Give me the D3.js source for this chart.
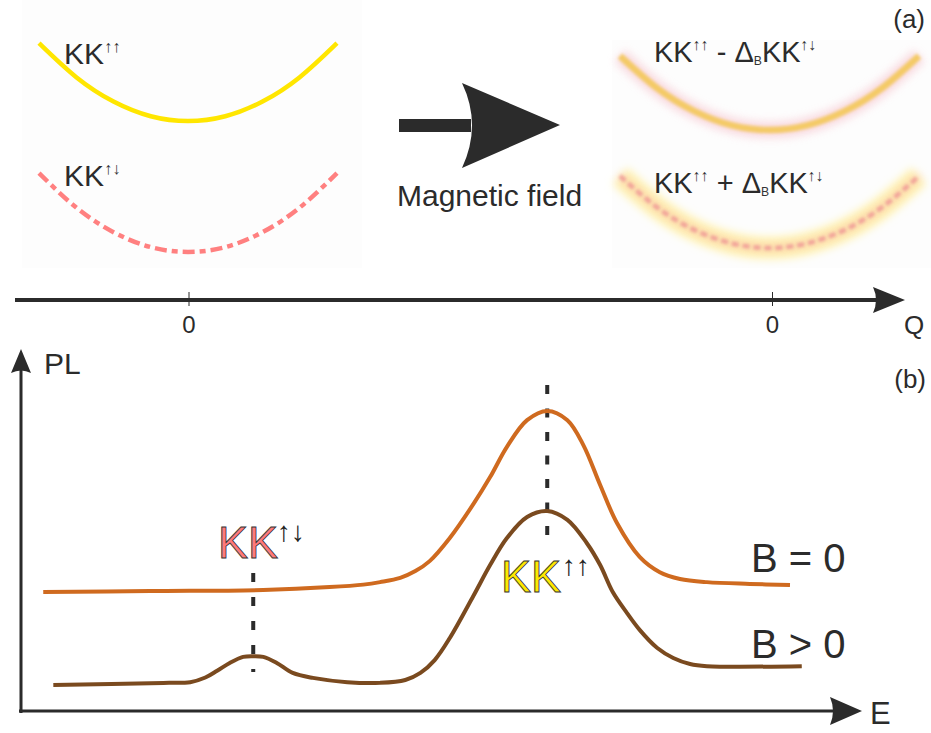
<!DOCTYPE html>
<html><head><meta charset="utf-8">
<script src="https://cdn.jsdelivr.net/npm/d3@7"></script>
<style>body{margin:0;background:#fff}svg{display:block}text{font-family:"Liberation Sans",Arial,sans-serif;fill:#2b2b2b}</style>
</head><body>
<script>
// ---------- data ----------
// panel (a): dispersion curves, Q in arbitrary units, E in arbitrary units
const qPoints = [-1, -0.75, -0.5, -0.25, 0, 0.25, 0.5, 0.75, 1];
const kkUpUp       = [9.43, 7.95, 6.89, 6.25, 6.04, 6.25, 6.89, 7.95, 9.43];
const kkUpDown     = [3.78, 2.28, 1.21, 0.56, 0.35, 0.56, 1.21, 2.28, 3.78];
const kkMinus      = [8.87, 7.46, 6.46, 5.85, 5.65, 5.85, 6.46, 7.46, 8.87];
const kkPlus       = [3.65, 2.28, 1.30, 0.72, 0.52, 0.72, 1.30, 2.28, 3.65];
const qTickLabels  = ["0"];
// panel (b): PL spectra, E and PL in arbitrary units
const eB0  = [3.6, 16.3, 29.8, 37.7, 41.7, 43.7, 46.1, 47.9, 49.6, 52.0, 54.8, 56.8, 58.8, 61.2, 63.6, 66.0, 67.9, 69.9, 71.9, 74.6, 77.0, 79.4, 82.6, 87.7, 92.5];
const plB0 = [33.4, 33.7, 34.0, 34.8, 35.5, 36.2, 37.4, 39.3, 42.1, 48.6, 58.1, 65.7, 74.2, 81.7, 84.3, 81.7, 74.7, 63.5, 52.8, 43.3, 39.0, 37.1, 36.2, 35.7, 35.4];
const eB1  = [4.8, 17.9, 21.1, 22.9, 24.3, 25.8, 27.4, 28.6, 29.8, 31.4, 33.3, 35.7, 39.8, 43.7, 46.7, 48.5, 50.2, 52.0, 54.8, 56.8, 58.8, 61.2, 63.6, 66.0, 68.3, 69.9, 71.4, 73.1, 74.6, 76.7, 78.6, 80.6, 82.6, 93.9];
const plB1 = [7.3, 7.9, 8.1, 9.4, 11.3, 13.5, 15.2, 15.4, 15.2, 13.5, 10.7, 9.3, 8.1, 7.9, 8.7, 10.7, 14.3, 20.5, 32.3, 41.0, 48.6, 54.5, 56.2, 53.7, 47.2, 41.0, 33.4, 27.5, 22.8, 17.7, 14.9, 13.2, 12.6, 12.6];
const peakE = [28.6, 63.6];          // KK↑↓ and KK↑↑ peak positions
const seriesLabels = ["B = 0", "B > 0"];

// ---------- setup ----------
const W = 931, H = 733;
const svg = d3.select("body").append("svg").attr("width", W).attr("height", H);
const defs = svg.append("defs");
defs.append("filter").attr("id","blurBig").attr("x","-20%").attr("y","-50%").attr("width","140%").attr("height","200%")
  .append("feGaussianBlur").attr("stdDeviation", 4);
defs.append("filter").attr("id","blurSmall").attr("x","-20%").attr("y","-50%").attr("width","140%").attr("height","200%")
  .append("feGaussianBlur").attr("stdDeviation", 1.6);

// faint panel backgrounds
svg.append("rect").attr("x",22).attr("y",0).attr("width",340).attr("height",268).attr("fill","#fdfdfd");
svg.append("rect").attr("x",612).attr("y",40).attr("width",319).attr("height",228).attr("fill","#fdfdfd");

// ---------- panel (a) ----------
const yA = d3.scaleLinear().domain([0, 10]).range([260, 30]);
const xL = d3.scaleLinear().domain([-1, 1]).range([39, 337]);
const xR = d3.scaleLinear().domain([-1, 1]).range([620, 919]);
const mkLine = (xs) => d3.line().x((d,i)=>xs(qPoints[i])).y(d=>yA(d)).curve(d3.curveNatural);

svg.append("path").attr("d", mkLine(xL)(kkUpUp)).attr("fill","none").attr("stroke","#ffe600").attr("stroke-width",4.5);
svg.append("path").attr("d", mkLine(xL)(kkUpDown)).attr("fill","none").attr("stroke","#ff8080").attr("stroke-width",4.5)
  .attr("stroke-dasharray","12,5,6,5");

// right blurred curves
svg.append("path").attr("d", mkLine(xR)(kkMinus)).attr("fill","none").attr("stroke","#f8d0d8").attr("stroke-width",16)
  .attr("filter","url(#blurBig)").attr("opacity",0.8);
svg.append("path").attr("d", mkLine(xR)(kkMinus)).attr("fill","none").attr("stroke","#f4ca66").attr("stroke-width",6.5)
  .attr("filter","url(#blurSmall)");
svg.append("path").attr("d", mkLine(xR)(kkPlus)).attr("fill","none").attr("stroke","#fff3b0").attr("stroke-width",22)
  .attr("filter","url(#blurBig)");
svg.append("path").attr("d", mkLine(xR)(kkPlus)).attr("fill","none").attr("stroke","#f6b0a8").attr("stroke-width",8)
  .attr("filter","url(#blurBig)").attr("opacity",0.45);
svg.append("path").attr("d", mkLine(xR)(kkPlus)).attr("fill","none").attr("stroke","#f09a96").attr("stroke-width",4.5)
  .attr("stroke-dasharray","7,4").attr("filter","url(#blurSmall)").attr("opacity",0.85);

// labels with superscripts
function kkLabel(x, y, size, parts){
  const t = svg.append("text").attr("x",x).attr("y",y).attr("font-size",size);
  parts.forEach(p=>{
    const ts = t.append("tspan").text(p.t);
    if (p.sup) ts.attr("font-size", size*0.55).attr("dy", -size*0.4).style("fill","#333");
    if (p.sub) ts.attr("font-size", size*0.42).attr("dy", size*0.1).style("fill","#333");
    if (p.dy) ts.attr("dy", p.dy);
  });
  return t;
}
kkLabel(64, 64, 30, [{t:"KK"},{t:"↑↑",sup:true}]);
kkLabel(64, 186, 30, [{t:"KK"},{t:"↑↓",sup:true}]);
kkLabel(654, 62, 29, [{t:"KK"},{t:"↑↑",sup:true},{t:" - Δ",dy:11.6},{t:"B",sub:true},{t:"KK",dy:-2.9},{t:"↑↓",sup:true}]);
kkLabel(654, 193, 29, [{t:"KK"},{t:"↑↑",sup:true},{t:" + Δ",dy:11.6},{t:"B",sub:true},{t:"KK",dy:-2.9},{t:"↑↓",sup:true}]);

// Magnetic field arrow
svg.append("rect").attr("x",399).attr("y",119).attr("width",72).attr("height",13).attr("fill","#2b2b2b");
svg.append("path").attr("d","M462,83 L560,125 L462,168 Q482,125 462,83 Z").attr("fill","#2b2b2b");
svg.append("text").attr("x",397).attr("y",206).attr("font-size",30).text("Magnetic field");
svg.append("text").attr("x",925).attr("y",28).attr("font-size",26).attr("text-anchor","end").text("(a)");

// Q axis
const axY = 300;
svg.append("line").attr("x1",15).attr("x2",880).attr("y1",axY).attr("y2",axY).attr("stroke","#2b2b2b").attr("stroke-width",4);
svg.append("path").attr("d",`M873,${axY-13} L905,${axY} L873,${axY+13} Q879,${axY} 873,${axY-13} Z`).attr("fill","#2b2b2b");
[xL, xR].forEach(s=>{
  const x0 = s(0) + (s===xR ? 3 : 1);
  svg.append("line").attr("x1",x0).attr("x2",x0).attr("y1",axY-8).attr("y2",axY+6).attr("stroke","#2b2b2b").attr("stroke-width",1);
  svg.append("text").attr("x",x0).attr("y",333).attr("font-size",24).attr("text-anchor","middle").text(qTickLabels[0]);
});
svg.append("text").attr("x",904).attr("y",334).attr("font-size",26).text("Q");

// ---------- panel (b) ----------
const xE = d3.scaleLinear().domain([0, 100]).range([13, 853]);
const yP = d3.scaleLinear().domain([0, 100]).range([711, 355]);

// axes
svg.append("line").attr("x1",21).attr("x2",21).attr("y1",713).attr("y2",370).attr("stroke","#2b2b2b").attr("stroke-width",3);
svg.append("path").attr("d","M11,373 L21,349 L31,373 Q21,368 11,373 Z").attr("fill","#2b2b2b");
svg.append("line").attr("x1",19).attr("x2",835).attr("y1",711).attr("y2",711).attr("stroke","#2b2b2b").attr("stroke-width",3);
svg.append("path").attr("d","M830,697 L862,711 L830,725 Q836,711 830,697 Z").attr("fill","#2b2b2b");
svg.append("text").attr("x",44).attr("y",374).attr("font-size",30).text("PL");
svg.append("text").attr("x",870).attr("y",724).attr("font-size",31).text("E");
svg.append("text").attr("x",926).attr("y",388).attr("font-size",26).attr("text-anchor","end").text("(b)");

// dashed markers
svg.append("line").attr("x1",xE(peakE[1])).attr("x2",xE(peakE[1])).attr("y1",385).attr("y2",535)
  .attr("stroke","#2b2b2b").attr("stroke-width",4).attr("stroke-dasharray","9,14.5");
svg.append("line").attr("x1",xE(peakE[0])).attr("x2",xE(peakE[0])).attr("y1",573).attr("y2",672)
  .attr("stroke","#2b2b2b").attr("stroke-width",4).attr("stroke-dasharray","9,15");

const lineB = d3.line().x(d=>xE(d[0])).y(d=>yP(d[1])).curve(d3.curveCatmullRom.alpha(0.5));
svg.append("path").attr("d", lineB(eB0.map((e,i)=>[e,plB0[i]]))).attr("fill","none").attr("stroke","#cf6a1f").attr("stroke-width",4);
svg.append("path").attr("d", lineB(eB1.map((e,i)=>[e,plB1[i]]))).attr("fill","none").attr("stroke","#7a4a1f").attr("stroke-width",4);

// series labels
svg.append("text").attr("x",751).attr("y",572).attr("font-size",40).text(seriesLabels[0]);
svg.append("text").attr("x",751).attr("y",658).attr("font-size",40).text(seriesLabels[1]);

// peak labels
function bigKK(x, y, fill, arrows, ax, ay){
  svg.append("text").attr("x",x).attr("y",y).attr("font-size",45).style("fill",fill)
    .attr("stroke","#333").attr("stroke-width",0.9).text("KK");
  svg.append("text").attr("x",ax).attr("y",ay).attr("font-size",28).attr("font-weight","bold").style("fill","#222").text(arrows);
}
bigKK(218, 558, "#ff7a7a", "↑↓", 277, 541);
bigKK(501, 592, "#ffe800", "↑↑", 562, 575);
</script>
</body></html>
